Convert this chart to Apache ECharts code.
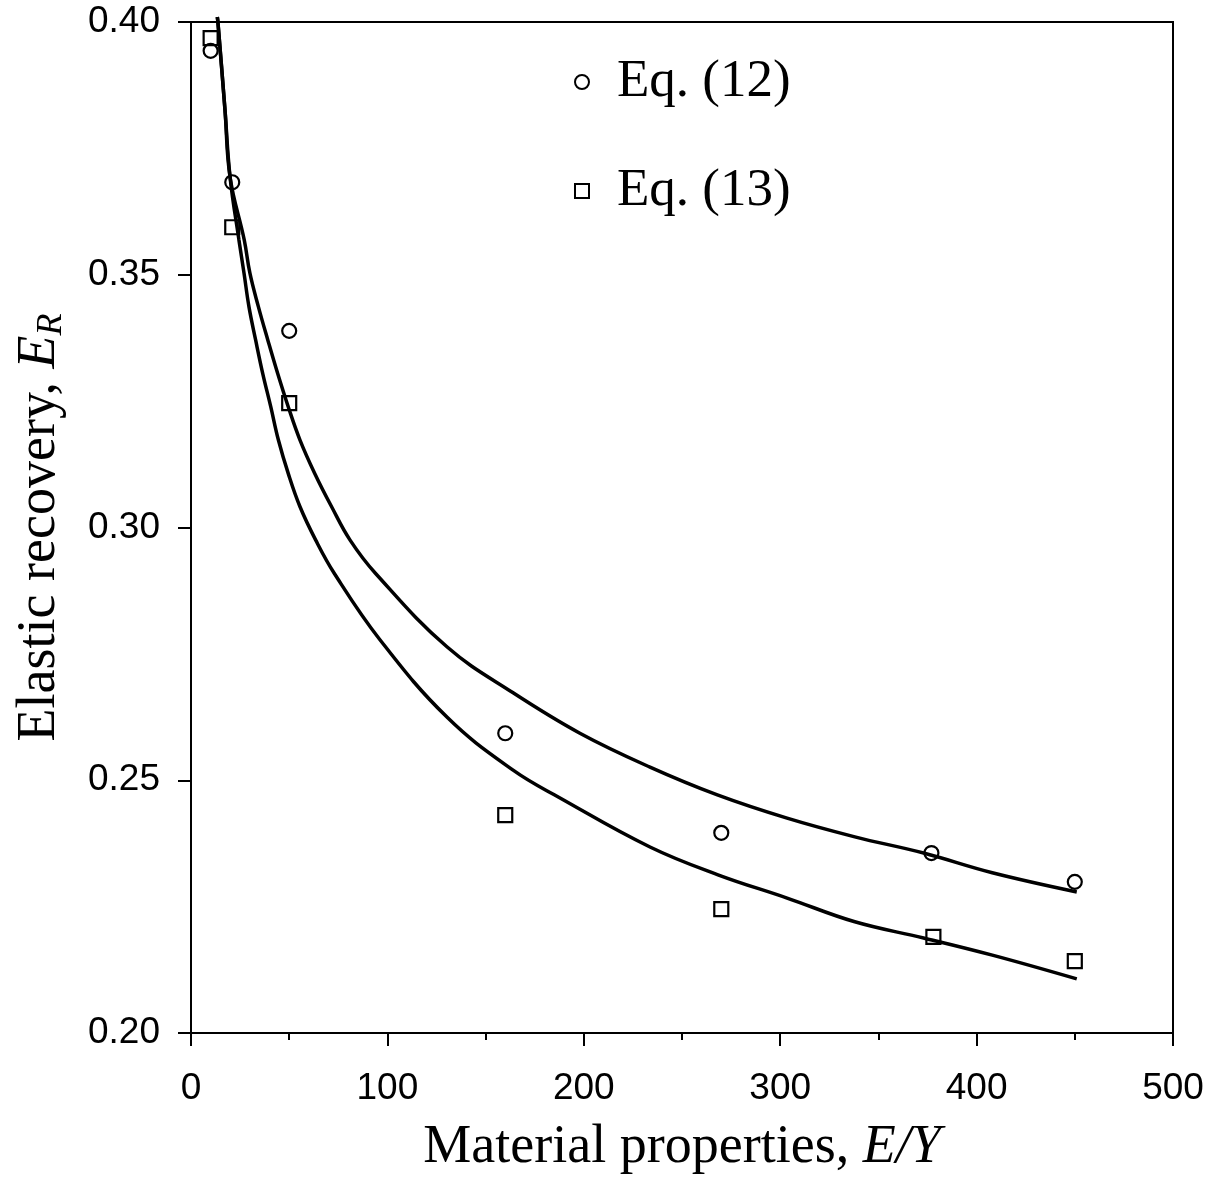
<!DOCTYPE html>
<html>
<head>
<meta charset="utf-8">
<script src="https://cdn.jsdelivr.net/npm/echarts@6/dist/echarts.min.js"></script>
<style>
html,body{margin:0;padding:0;background:#fff;}
#chart{width:1218px;height:1180px;}
</style>
</head>
<body>
<div id="chart"></div>
<script>
// Data
const eq12X = [10, 21, 50, 160, 270, 377, 450];
const eq12Y = [0.3943, 0.3683, 0.3389, 0.2593, 0.2396, 0.2356, 0.2299];
const eq13X = [10, 21, 50, 160, 270, 378, 450];
const eq13Y = [0.3968, 0.3594, 0.3246, 0.2431, 0.2245, 0.2190, 0.2142];

const fit12X = [13.4, 13.7, 17.3, 19.9, 27.1, 30.0, 34.3, 39.1, 44.1, 49.5, 55.5, 63.0, 71.6, 81.0, 94.0, 130.3, 164, 198, 233.7, 268, 303.5, 338, 373, 408, 451];
const fit12Y = [0.401, 0.400, 0.3826, 0.3693, 0.3569, 0.3503, 0.3437, 0.3371, 0.3305, 0.3239, 0.3173, 0.3107, 0.3041, 0.2975, 0.2909, 0.2764, 0.2673, 0.2593, 0.2526, 0.2471, 0.2425, 0.2388, 0.2356, 0.2317, 0.2279];
const fit13X = [13.4, 13.7, 17.3, 19.9, 24.4, 27.0, 29.5, 32.9, 36.5, 40.6, 44.5, 49.5, 55.5, 63.5, 73.0, 96.2, 130.3, 164, 187.9, 233.7, 268.3, 303.5, 338, 373, 408, 451];
const fit13Y = [0.401, 0.400, 0.3826, 0.3693, 0.3569, 0.3503, 0.3437, 0.3371, 0.3305, 0.3239, 0.3173, 0.3107, 0.3041, 0.2975, 0.2909, 0.2778, 0.2625, 0.2520, 0.2465, 0.2368, 0.2313, 0.2267, 0.2220, 0.2188, 0.2154, 0.2107];

const seriesNames = ['Eq. (12)', 'Eq. (13)'];
const xTitle = 'Material properties, ';
const xTitleIt = 'E/Y';
const yTitle = 'Elastic recovery, ';

const zip = (xs, ys) => xs.map((x, i) => [x, ys[i]]);

const chart = echarts.init(document.getElementById('chart'), null, {renderer: 'canvas'});
const serif = 'Liberation Serif';
const sans = 'Liberation Sans';

chart.setOption({
  animation: false,
  backgroundColor: '#fff',
  grid: {left: 191, right: 45, top: 22, bottom: 147, show: true, borderColor: '#000', borderWidth: 2, backgroundColor: 'transparent'},
  legend: {
    left: 569, top: 49, orient: 'vertical',
    itemWidth: 14, itemHeight: 14, itemGap: 53,
    data: seriesNames,
    textStyle: {fontFamily: serif, fontSize: 53, color: '#000', lineHeight: 56, padding: [0, 0, 0, 23]}
  },
  xAxis: {
    type: 'value', min: 0, max: 500, interval: 100,
    axisLine: {show: true, onZero: false, lineStyle: {color: '#000', width: 2}},
    axisTick: {show: true, inside: false, length: 13, lineStyle: {color: '#000', width: 2}},
    minorTick: {show: true, splitNumber: 2, length: 7, lineStyle: {color: '#000', width: 2}},
    splitLine: {show: false},
    axisLabel: {fontFamily: sans, fontSize: 37, color: '#000', margin: 37},
    name: '{n|' + xTitle + '}{i|' + xTitleIt + '}',
    nameLocation: 'middle', nameGap: 88,
    nameTextStyle: {rich: {
      n: {fontFamily: serif, fontSize: 54, color: '#000'},
      i: {fontFamily: serif, fontSize: 54, color: '#000', fontStyle: 'italic'}
    }}
  },
  yAxis: {
    type: 'value', min: 0.2, max: 0.4, interval: 0.05,
    axisLine: {show: true, onZero: false, lineStyle: {color: '#000', width: 2}},
    axisTick: {show: true, inside: false, length: 13, lineStyle: {color: '#000', width: 2}},
    splitLine: {show: false},
    axisLabel: {fontFamily: sans, fontSize: 37, color: '#000', margin: 31, formatter: v => v.toFixed(2)},
    name: '{n|' + yTitle + '}{i|E}{s|R}',
    nameLocation: 'middle', nameGap: 121, nameRotate: 90,
    nameTextStyle: {rich: {
      n: {fontFamily: serif, fontSize: 54, color: '#000', lineHeight: 60},
      i: {fontFamily: serif, fontSize: 54, color: '#000', fontStyle: 'italic', lineHeight: 60},
      s: {fontFamily: serif, fontSize: 36, color: '#000', fontStyle: 'italic', lineHeight: 60, verticalAlign: 'bottom', padding: [14, 0, 0, 0]}
    }}
  },
  series: [
    {
      name: 'fit12', type: 'line', data: zip(fit12X, fit12Y), showSymbol: false, symbol: 'none',
      smooth: 0.4, clip: false,
      lineStyle: {color: '#000', width: 3.5}, z: 2, silent: true
    },
    {
      name: 'fit13', type: 'line', data: zip(fit13X, fit13Y), showSymbol: false, symbol: 'none',
      smooth: 0.4, clip: false,
      lineStyle: {color: '#000', width: 3.5}, z: 2, silent: true
    },
    {
      name: seriesNames[0], type: 'scatter', data: zip(eq12X, eq12Y), symbol: 'circle', symbolSize: 14,
      itemStyle: {color: 'rgba(255,255,255,0)', borderColor: '#000', borderWidth: 2.2, opacity: 1}, z: 3
    },
    {
      name: seriesNames[1], type: 'scatter', data: zip(eq13X, eq13Y), symbol: 'rect', symbolSize: 14,
      itemStyle: {color: 'rgba(255,255,255,0)', borderColor: '#000', borderWidth: 2.2, opacity: 1}, z: 3
    }
  ]
});
</script>
</body>
</html>
